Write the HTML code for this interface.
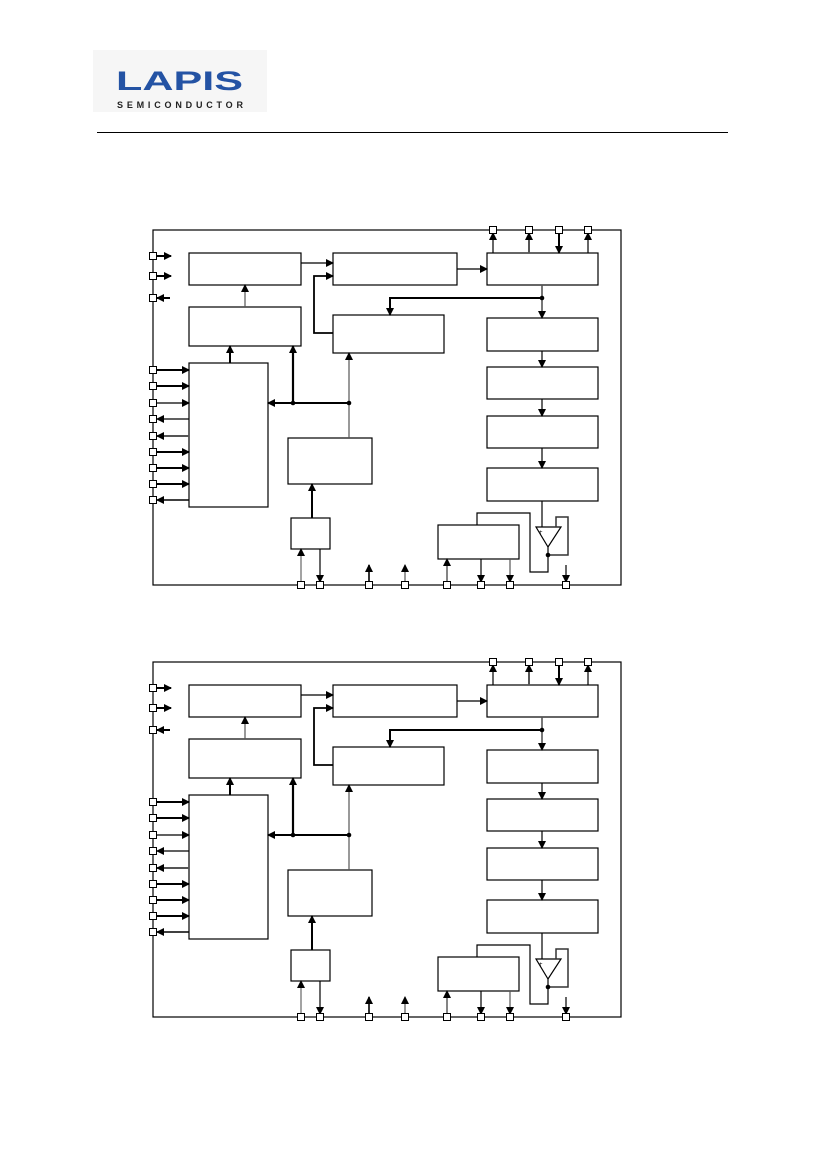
<!DOCTYPE html>
<html><head><meta charset="utf-8"><style>
html,body{margin:0;padding:0;background:#fff;}
svg{display:block;}
</style></head><body>
<svg width="827" height="1169" viewBox="0 0 827 1169" xmlns="http://www.w3.org/2000/svg">
<defs>
<marker id="a" markerWidth="8" markerHeight="8" refX="7" refY="4" orient="auto" markerUnits="userSpaceOnUse">
<path d="M0,0 L8,4 L0,8 z" fill="#000"/></marker>
<g id="dg" fill="none" stroke="#000" stroke-width="1.2">
<rect x="153" y="230" width="468" height="355"/>
<rect x="189" y="253" width="112" height="32"/>
<rect x="189" y="307" width="112" height="39"/>
<rect x="189" y="363" width="79" height="144"/>
<rect x="333" y="253" width="124" height="32"/>
<rect x="333" y="315" width="111" height="38"/>
<rect x="288" y="438" width="84" height="46"/>
<rect x="291" y="518" width="39" height="31"/>
<rect x="487" y="253" width="111" height="32"/>
<rect x="487" y="318" width="111" height="33"/>
<rect x="487" y="367" width="111" height="32"/>
<rect x="487" y="416" width="111" height="32"/>
<rect x="487" y="468" width="111" height="33"/>
<rect x="438" y="525" width="81" height="34"/>
<line x1="157" y1="256" x2="171" y2="256" stroke-width="2" marker-end="url(#a)"/>
<line x1="157" y1="276" x2="171" y2="276" stroke-width="2" marker-end="url(#a)"/>
<line x1="170" y1="298" x2="157" y2="298" stroke-width="2" marker-end="url(#a)"/>
<line x1="157" y1="370" x2="189" y2="370" stroke-width="2" marker-end="url(#a)"/>
<line x1="157" y1="386" x2="189" y2="386" stroke-width="2" marker-end="url(#a)"/>
<line x1="157" y1="403" x2="189" y2="403" marker-end="url(#a)"/>
<line x1="189" y1="419" x2="157" y2="419" marker-end="url(#a)"/>
<line x1="189" y1="436" x2="157" y2="436" stroke="#555" stroke-width="2" marker-end="url(#a)"/>
<line x1="157" y1="452" x2="189" y2="452" stroke-width="2" marker-end="url(#a)"/>
<line x1="157" y1="468" x2="189" y2="468" stroke-width="2" marker-end="url(#a)"/>
<line x1="157" y1="484" x2="189" y2="484" stroke-width="2" marker-end="url(#a)"/>
<line x1="189" y1="500" x2="157" y2="500" stroke-width="1.5" marker-end="url(#a)"/>
<line x1="301" y1="263" x2="333" y2="263" marker-end="url(#a)"/>
<polyline points="333,333 314,333 314,276 333,276" stroke-width="1.8" marker-end="url(#a)"/>
<line x1="457" y1="269" x2="487" y2="269" marker-end="url(#a)"/>
<line x1="542" y1="285" x2="542" y2="318" stroke="#555" stroke-width="1.6" marker-end="url(#a)"/>
<polyline points="542,298 390,298 390,315" stroke-width="2" marker-end="url(#a)"/>
<line x1="542" y1="351" x2="542" y2="367" marker-end="url(#a)"/>
<line x1="542" y1="399" x2="542" y2="416" marker-end="url(#a)"/>
<line x1="542" y1="448" x2="542" y2="468" marker-end="url(#a)"/>
<line x1="245" y1="307" x2="245" y2="285" stroke="#555" marker-end="url(#a)"/>
<line x1="230" y1="363" x2="230" y2="346" stroke-width="2" marker-end="url(#a)"/>
<line x1="349" y1="403" x2="268" y2="403" stroke-width="2" marker-end="url(#a)"/>
<line x1="293" y1="403" x2="293" y2="346" stroke-width="2.2" marker-end="url(#a)"/>
<line x1="349" y1="438" x2="349" y2="353" stroke="#555" marker-end="url(#a)"/>
<line x1="312" y1="518" x2="312" y2="484" stroke-width="2" marker-end="url(#a)"/>
<line x1="493" y1="253" x2="493" y2="233" marker-end="url(#a)"/>
<line x1="529" y1="253" x2="529" y2="233" stroke="#555" stroke-width="2" marker-end="url(#a)"/>
<line x1="559" y1="233" x2="559" y2="253" stroke-width="2" marker-end="url(#a)"/>
<line x1="588" y1="253" x2="588" y2="233" marker-end="url(#a)"/>
<line x1="301" y1="582" x2="301" y2="549" stroke="#666" marker-end="url(#a)"/>
<line x1="320" y1="549" x2="320" y2="582" marker-end="url(#a)"/>
<line x1="369" y1="582" x2="369" y2="565" stroke-width="1.6" marker-end="url(#a)"/>
<line x1="405" y1="582" x2="405" y2="565" stroke="#555" marker-end="url(#a)"/>
<line x1="447" y1="582" x2="447" y2="559" stroke="#666" stroke-width="1.6" marker-end="url(#a)"/>
<line x1="481" y1="559" x2="481" y2="582" marker-end="url(#a)"/>
<line x1="510" y1="559" x2="510" y2="582" stroke="#555" marker-end="url(#a)"/>
<line x1="566" y1="565" x2="566" y2="582" marker-end="url(#a)"/>
<polygon points="536,527 561,527 548,547"/>
<line x1="542" y1="501" x2="542" y2="527"/>
<polyline points="548,547 548,555 568,555 568,517 556,517 556,527" stroke="#333" stroke-width="1.5"/>
<polyline points="477,525 477,513 530,513 530,572 548,572 548,555"/>
<text x="539" y="534" font-size="6" font-family="Liberation Sans" fill="#000" stroke="none">+</text>
<g fill="#fff" stroke="#000" stroke-width="1">
<rect x="149.5" y="252.5" width="7" height="7"/><rect x="149.5" y="272.5" width="7" height="7"/><rect x="149.5" y="294.5" width="7" height="7"/>
<rect x="149.5" y="366.5" width="7" height="7"/><rect x="149.5" y="382.5" width="7" height="7"/><rect x="149.5" y="399.5" width="7" height="7"/>
<rect x="149.5" y="415.5" width="7" height="7"/><rect x="149.5" y="432.5" width="7" height="7"/><rect x="149.5" y="448.5" width="7" height="7"/>
<rect x="149.5" y="464.5" width="7" height="7"/><rect x="149.5" y="480.5" width="7" height="7"/><rect x="149.5" y="496.5" width="7" height="7"/>
<rect x="489.5" y="226.5" width="7" height="7"/><rect x="525.5" y="226.5" width="7" height="7"/><rect x="555.5" y="226.5" width="7" height="7"/><rect x="584.5" y="226.5" width="7" height="7"/>
<rect x="297.5" y="581.5" width="7" height="7"/><rect x="316.5" y="581.5" width="7" height="7"/><rect x="365.5" y="581.5" width="7" height="7"/><rect x="401.5" y="581.5" width="7" height="7"/>
<rect x="443.5" y="581.5" width="7" height="7"/><rect x="477.5" y="581.5" width="7" height="7"/><rect x="506.5" y="581.5" width="7" height="7"/><rect x="562.5" y="581.5" width="7" height="7"/>
</g>
<g fill="#000" stroke="none">
<circle cx="542" cy="298" r="2.3"/><circle cx="293" cy="403" r="2.3"/><circle cx="349" cy="403" r="2.3"/><circle cx="548" cy="555" r="2.3"/>
</g>
</g>
</defs>
<rect x="93" y="50" width="174" height="62" fill="#f6f6f6"/>
<text x="116" y="90" font-family="Liberation Sans" font-weight="bold" font-size="27" fill="#2453a4" textLength="127" lengthAdjust="spacingAndGlyphs">LAPIS</text>
<text x="117" y="108" font-family="Liberation Sans" font-weight="bold" font-size="9" fill="#222" textLength="126" lengthAdjust="spacing">SEMICONDUCTOR</text>
<line x1="97" y1="132.5" x2="728" y2="132.5" stroke="#000" stroke-width="1"/>
<use href="#dg"/>
<use href="#dg" transform="translate(0,432)"/>
</svg>
</body></html>
